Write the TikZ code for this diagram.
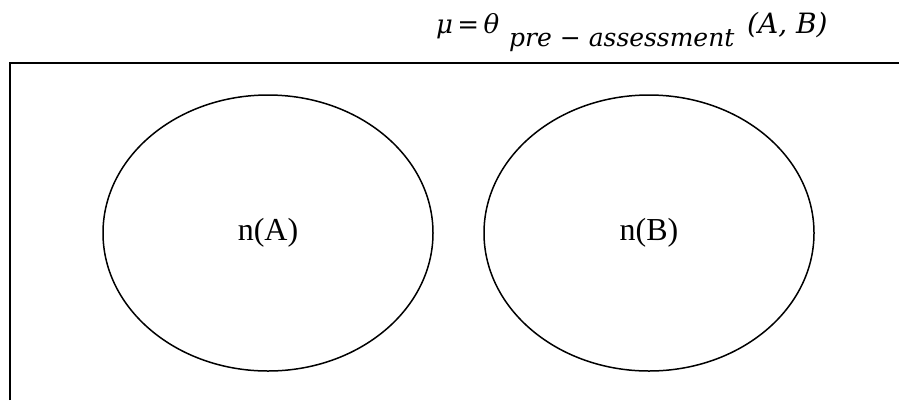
\documentclass[tikz,border=0pt]{standalone}
\usepackage{fontspec}
\setmainfont{Liberation Serif}
\newfontfamily\formfont{DejaVu Serif}
\usetikzlibrary{shapes.geometric}
\begin{document}
\begin{tikzpicture}[x=1pt,y=-1pt,
  setell/.style={ellipse, draw, line width=1.5pt, minimum width=330pt, minimum height=276pt, inner sep=0pt, font=\fontsize{32}{32}\selectfont},
  frame/.style={line width=1.7pt},
  formtext/.style={anchor=base west, inner sep=0pt, font=\formfont\itshape}]
\useasboundingbox (0,0) rectangle (899,400);
\coordinate (fb) at (10,400);
\coordinate (ftl) at (10,63);
\coordinate (ftr) at (899,63);
\draw[frame] (fb) -- (ftl) -- (ftr);
\node[setell] (A) at (268,233) {n(A)};
\node[setell] (B) at (649,233) {n(B)};
\node[formtext] (F1) at (436,33) {\fontsize{26}{26}\selectfont μ\,=\,θ};
\node[formtext] (F2) at (509,46) {\fontsize{25}{25}\selectfont pre − assessment};
\node[formtext] (F3) at (747,33) {\fontsize{28}{28}\selectfont (A, B)};
\end{tikzpicture}
\end{document}
